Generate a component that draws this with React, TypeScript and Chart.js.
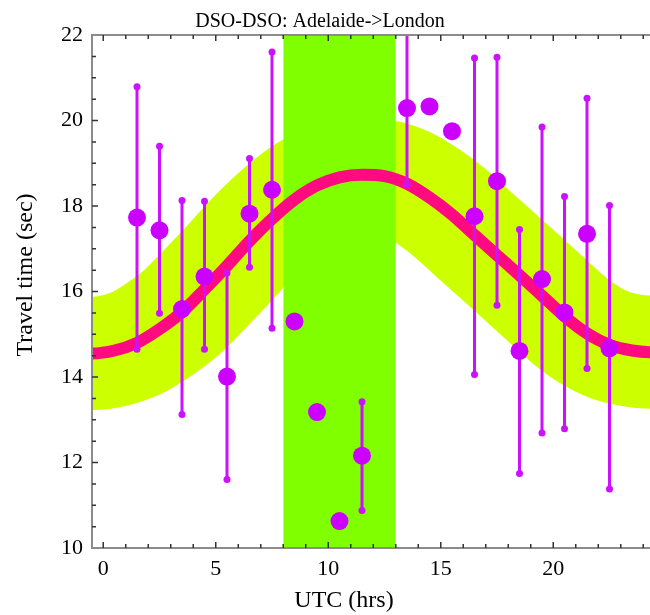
import React, { useEffect, useRef } from 'react';
import { Chart, registerables } from 'chart.js';

Chart.register(...registerables);

const TITLE = 'DSO-DSO: Adelaide->London';
const X_TITLE = 'UTC (hrs)';
const Y_TITLE = 'Travel time (sec)';

// measured mean travel times (sec) at each UTC hour
const hours = [1.5, 2.5, 3.5, 4.5, 5.5, 6.5, 7.5, 8.5, 9.5, 10.5, 11.5, 13.5, 14.5, 15.5, 16.5, 17.5, 18.5, 19.5, 20.5, 21.5, 22.5];
const travelTimes = [17.73, 17.43, 15.59, 16.35, 14.01, 17.82, 18.38, 15.3, 13.18, 10.63, 12.16, 20.29, 20.33, 19.75, 17.76, 18.58, 14.61, 16.29, 15.51, 17.35, 14.67];

// error bars
const errHours = [1.5, 2.5, 3.5, 4.5, 5.5, 6.5, 7.5, 11.5, 13.5, 16.5, 17.5, 18.5, 19.5, 20.5, 21.5, 22.5];
const errLow = [14.65, 15.49, 13.12, 14.65, 11.6, 16.57, 15.14, 10.88, 18.5, 14.06, 15.68, 11.74, 12.69, 12.79, 14.2, 11.38];
const errHigh = [20.79, 19.4, 18.13, 18.11, 16.43, 19.11, 21.6, 13.42, 22.6, 21.46, 21.48, 17.45, 19.85, 18.22, 20.52, 18.01];

// fitted diurnal curve
const fitHours = [-1.5, -0.5, 0.5, 1.5, 2.5, 3.5, 4.5, 5.5, 6.5, 7.5, 8.5, 9.5, 10.5, 11.5, 12.5, 13.5, 14.5, 15.5, 16.5, 17.5, 18.5, 19.5, 20.5, 21.5, 22.5, 23.5, 24.5, 25.5];
const fitValues = [14.58, 14.55, 14.62, 14.8, 15.12, 15.52, 16.05, 16.6, 17.18, 17.7, 18.15, 18.48, 18.67, 18.73, 18.7, 18.52, 18.2, 17.8, 17.32, 16.85, 16.38, 15.9, 15.42, 15.02, 14.75, 14.62, 14.58, 14.6];

// shaded UTC window
const shadeHours = [8, 13];

const xTickLabels = [0, 5, 10, 15, 20];
const yTickLabels = [10, 12, 14, 16, 18, 20, 22];

const FONT = '"Liberation Serif", "Times New Roman", serif';

const framePlugin = {
  id: 'frameTicks',
  afterDatasetsDraw(chart: any) {
    const { ctx, chartArea: a, scales } = chart;
    const xs = scales.x;
    const ys = scales.y;
    ctx.save();
    ctx.strokeStyle = '#8c8c8c';
    ctx.lineWidth = 2;
    ctx.beginPath();
    ctx.moveTo(a.left, a.top);
    ctx.lineTo(a.right, a.top);
    ctx.moveTo(a.left, a.top - 1);
    ctx.lineTo(a.left, a.bottom + 1);
    ctx.moveTo(a.left, a.bottom);
    ctx.lineTo(a.right, a.bottom);
    ctx.stroke();
    ctx.strokeStyle = '#333333';
    ctx.lineWidth = 1.5;
    ctx.beginPath();
    xs.ticks.forEach((t: any) => {
      const px = xs.getPixelForValue(t.value);
      if (px < a.left + 2 || px > a.right - 1) return;
      const len = xTickLabels.includes(t.value) ? 6 : 4;
      ctx.moveTo(px, a.bottom);
      ctx.lineTo(px, a.bottom - len);
      ctx.moveTo(px, a.top);
      ctx.lineTo(px, a.top + len);
    });
    ys.ticks.forEach((t: any) => {
      const py = ys.getPixelForValue(t.value);
      if (py < a.top + 2 || py > a.bottom - 2) return;
      const len = yTickLabels.includes(t.value) ? 6 : 4;
      ctx.moveTo(a.left, py);
      ctx.lineTo(a.left + len, py);
    });
    ctx.stroke();
    ctx.restore();
  },
  afterDraw(chart: any) {
    const { ctx } = chart;
    ctx.save();
    ctx.fillStyle = '#000';
    ctx.textAlign = 'center';
    ctx.textBaseline = 'alphabetic';
    ctx.font = `20px ${FONT}`;
    ctx.fillText(TITLE, 320, 27);
    ctx.font = `24px ${FONT}`;
    ctx.fillText(X_TITLE, 344, 607);
    ctx.translate(32, 275);
    ctx.rotate(-Math.PI / 2);
    ctx.fillText(Y_TITLE, 0, 0);
    ctx.restore();
  },
};

export default function App() {
  const ref = useRef<HTMLCanvasElement | null>(null);

  useEffect(() => {
    if (!ref.current) return;
    const fit = fitHours.map((h, i) => ({ x: h, y: fitValues[i] }));
    const errData: any[] = [];
    errHours.forEach((h, i) => {
      errData.push({ x: h, y: errLow[i] });
      errData.push({ x: h, y: errHigh[i] });
      errData.push({ x: h, y: null });
    });
    const chart = new Chart(ref.current, {
      type: 'line',
      data: {
        datasets: [
          {
            label: 'data',
            data: hours.map((h, i) => ({ x: h, y: travelTimes[i] })),
            showLine: false,
            pointRadius: 9,
            pointBackgroundColor: '#CC00FF',
            pointBorderWidth: 0,
            pointBorderColor: '#CC00FF',
            order: 0,
            clip: 0,
          } as any,
          {
            label: 'err',
            data: errData,
            borderColor: '#CC11FF',
            borderWidth: 3,
            pointRadius: 3.5,
            pointBackgroundColor: '#CC11FF',
            pointBorderWidth: 0,
            spanGaps: false,
            order: 1,
            clip: 0,
          } as any,
          {
            label: 'fit',
            data: fit,
            borderColor: '#FF0A80',
            borderWidth: 12,
            pointRadius: 0,
            cubicInterpolationMode: 'monotone',
            borderCapStyle: 'butt',
            order: 2,
            clip: 0,
          } as any,
          {
            label: 'shade',
            data: shadeHours.map((h) => ({ x: h, y: 22 })),
            borderWidth: 0,
            borderColor: 'rgba(0,0,0,0)',
            backgroundColor: '#80FF00',
            fill: 'start',
            pointRadius: 0,
            order: 3,
            clip: 0,
          } as any,
          {
            label: 'band',
            data: fit,
            borderColor: '#CCFF00',
            borderWidth: 113,
            pointRadius: 0,
            cubicInterpolationMode: 'monotone',
            borderCapStyle: 'butt',
            borderJoinStyle: 'round',
            order: 4,
            clip: 0,
          } as any,
        ],
      },
      options: {
        responsive: false,
        animation: false,
        devicePixelRatio: 1,
        layout: { autoPadding: false, padding: { top: 35, left: 0, right: 0, bottom: 0 } },
        plugins: {
          legend: { display: false },
          tooltip: { enabled: false },
          title: { display: false },
        },
        scales: {
          x: {
            type: 'linear',
            min: -0.5,
            max: 24.3,
            grid: { display: false, drawTicks: false },
            border: { display: false },
            ticks: {
              stepSize: 1,
              autoSkip: false,
              includeBounds: false,
              maxRotation: 0,
              minRotation: 0,
              padding: 8,
              color: '#000',
              font: { family: FONT, size: 22 },
              callback: (v: any) => (xTickLabels.includes(Number(v)) ? String(v) : ''),
            },
            afterFit: (s: any) => {
              s.height = 67;
              s.paddingLeft = 0;
              s.paddingRight = 0;
            },
          },
          y: {
            type: 'linear',
            min: 10,
            max: 22,
            grid: { display: false, drawTicks: false },
            border: { display: false },
            ticks: {
              stepSize: 0.5,
              autoSkip: false,
              includeBounds: false,
              padding: 9,
              color: '#000',
              font: { family: FONT, size: 22 },
              callback: (v: any) => (yTickLabels.includes(Number(v)) ? String(v) : ''),
            },
            afterFit: (s: any) => {
              s.width = 92;
              s.paddingTop = 0;
              s.paddingBottom = 0;
            },
          },
        },
      } as any,
      plugins: [framePlugin],
    });
    return () => chart.destroy();
  }, []);

  return (
    <canvas
      ref={ref}
      width={650}
      height={615}
      style={{ position: 'fixed', left: 0, top: 0, width: 650, height: 615 }}
    />
  );
}
